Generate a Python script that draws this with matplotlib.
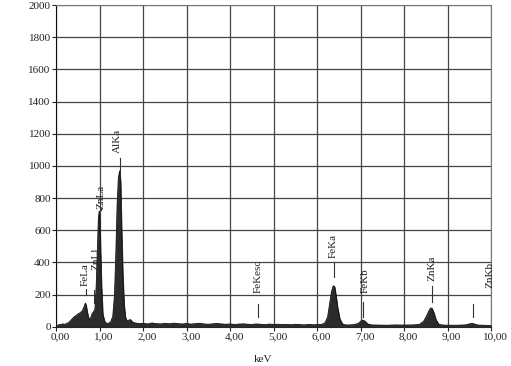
import numpy as np
import matplotlib.pyplot as plt
import matplotlib.transforms as mtransforms

# spectrum (keV, counts)
energy = [0.00, 0.05, 0.10, 0.15, 0.20, 0.25, 0.30, 0.35, 0.40, 0.45, 0.50, 0.55,
          0.60, 0.64, 0.67, 0.69, 0.71, 0.74, 0.77, 0.80, 0.83, 0.86, 0.89, 0.92,
          0.95, 0.97, 0.99, 1.01, 1.04, 1.07, 1.11, 1.15, 1.20, 1.25, 1.30, 1.34,
          1.37, 1.40, 1.43, 1.46, 1.48, 1.50, 1.53, 1.56, 1.59, 1.63, 1.67, 1.71,
          1.75, 1.80, 1.90, 2.00, 2.10, 2.20, 2.30, 2.40, 2.50, 2.60, 2.70, 2.80,
          2.90, 3.00, 3.10, 3.20, 3.30, 3.40, 3.50, 3.60, 3.70, 3.80, 3.90, 4.00,
          4.10, 4.20, 4.30, 4.40, 4.50, 4.60, 4.70, 4.80, 4.90, 5.00, 5.10, 5.20,
          5.30, 5.40, 5.50, 5.60, 5.70, 5.80, 5.90, 6.00, 6.10, 6.18, 6.24, 6.29,
          6.33, 6.37, 6.40, 6.43, 6.47, 6.52, 6.58, 6.65, 6.75, 6.85, 6.95, 7.00,
          7.05, 7.10, 7.16, 7.25, 7.40, 7.60, 7.80, 8.00, 8.20, 8.35, 8.45, 8.52,
          8.57, 8.61, 8.64, 8.68, 8.73, 8.80, 8.90, 9.00, 9.20, 9.40, 9.50, 9.56,
          9.62, 9.70, 9.80, 10.00]
counts = [5, 12, 15, 18, 16, 22, 30, 45, 60, 70, 80, 88,
          100, 125, 148, 130, 95, 60, 40, 62, 85, 95, 110, 260,
          500, 680, 720, 560, 260, 80, 35, 22, 22, 30, 65, 200,
          450, 760, 930, 970, 900, 640, 330, 140, 60, 35, 42, 45,
          30, 25, 20, 22, 18, 24, 20, 18, 22, 19, 23, 20,
          18, 21, 17, 20, 22, 18, 16, 19, 21, 18, 16, 18,
          15, 17, 19, 16, 15, 18, 16, 14, 17, 15, 16, 14,
          15, 13, 16, 14, 12, 15, 13, 14, 15, 25, 60, 150,
          220, 255, 250, 200, 120, 50, 18, 12, 12, 14, 22, 35,
          42, 35, 18, 12, 11, 10, 12, 11, 12, 15, 35, 70,
          100, 118, 115, 90, 45, 15, 11, 10, 10, 12, 18, 22,
          17, 11, 10, 8]

# peak labels: name, label x, label bottom, marker x, marker y0, marker y1
peak_names = ['FeLa', 'ZnLl', 'ZnLa', 'AlKa', 'FeKesc', 'FeKa', 'FeKb', 'ZnKa', 'ZnKb']
label_x = [0.67, 0.91, 1.03, 1.40, 4.64, 6.37, 7.10, 8.64, 9.97]
label_y = [255, 355, 735, 1080, 211, 429, 211, 286, 240]
marker_x = [0.68, 0.87, 1.02, 1.47, 4.64, 6.39, 7.06, 8.64, 9.58]
marker_lo = [195, 150, 725, 963, 62, 310, 62, 155, 62]
marker_hi = [235, 230, 735, 1050, 143, 404, 155, 255, 143]

plt.rcParams['font.family'] = ['Liberation Serif', 'DejaVu Serif']

fig = plt.figure(figsize=(5.11, 3.66), dpi=100)
ax = fig.add_axes([0.110, 0.107, 0.851, 0.879])

ax.fill_between(energy, 0, counts, color='#2b2b2b', lw=0.6, zorder=3)
ax.plot(energy, counts, color='#111111', lw=0.6, zorder=3)

for name, lx, ly, mx, m0, m1 in zip(peak_names, label_x, label_y, marker_x, marker_lo, marker_hi):
    ax.plot([mx, mx], [m0, m1], color='#333333', lw=0.8, zorder=4)
    ax.text(lx, ly, name, rotation=90, ha='center', va='bottom', fontsize=8,
            color='#222222', zorder=5, clip_on=False)

ax.set_xlim(0, 10)
ax.set_ylim(0, 2000)
ax.set_xticks(np.arange(0, 11, 1))
ax.set_xticklabels([f'{v:.2f}'.replace('.', ',') for v in range(11)])
ax.set_yticks(np.arange(0, 2001, 200))
ax.tick_params(labelsize=8, length=3, width=0.8, colors='#222222', pad=1)
# the x labels sit a little right of their ticks in the original
shift = mtransforms.ScaledTranslation(4 / 100, 0, fig.dpi_scale_trans)
for lab in ax.get_xticklabels():
    lab.set_transform(lab.get_transform() + shift)
ax.grid(True, color='#444444', lw=0.9, zorder=1)
ax.set_axisbelow(True)
for s in ['top', 'right']:
    ax.spines[s].set_color('#777777')
for s in ['left', 'bottom']:
    ax.spines[s].set_color('#111111')
fig.text(263 / 511, 1 - 359 / 366, 'keV', ha='center', va='center', fontsize=8,
         color='#222222')

fig.savefig('out.png', dpi=100)
